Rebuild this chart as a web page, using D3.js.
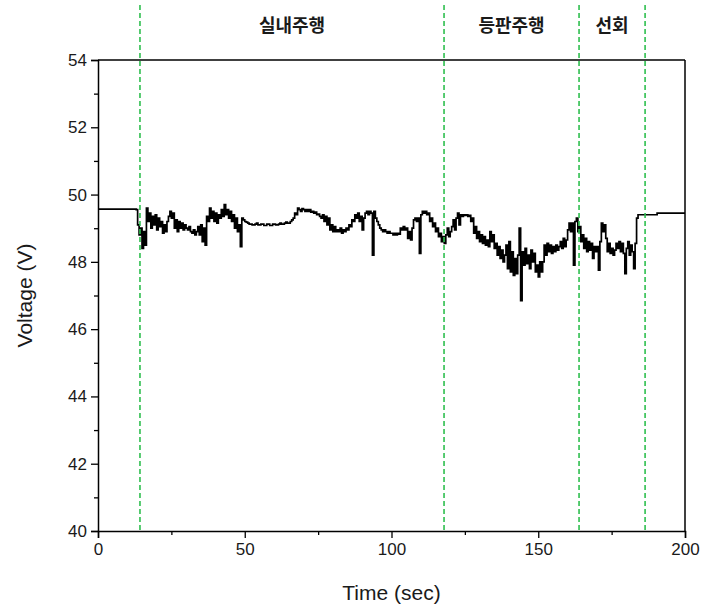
<!DOCTYPE html>
<html>
<head>
<meta charset="utf-8">
<script src="https://cdn.jsdelivr.net/npm/d3@7/dist/d3.min.js"></script>
<style>
  html, body { margin: 0; padding: 0; background: #fff; }
  svg { display: block; }
</style>
</head>
<body>
<svg id="chart" width="703" height="610"></svg>
<script>
// Battery voltage during the driving test
const xDomain = [0, 200];
const yDomain = [40, 54];
const xMajorTicks = [0, 50, 100, 150, 200];
const xMinorTicks = [25, 75, 125, 175];
const yMajorTicks = [40, 42, 44, 46, 48, 50, 52, 54];
const yMinorTicks = [41, 43, 45, 47, 49, 51, 53];

// phase boundaries (sec) and phase names
const phaseBounds = [14.3, 117.9, 163.9, 186.4];
const phaseNames = ["실내주행", "등판주행", "선회"];

// idle before the run
const leadIn = [[0, 49.57], [13, 49.57]];
// sampled voltage during the run, every 0.5 s from sampleStart
const sampleStart = 13;
const sampleStep = 0.5;
const runVoltage = [
  49.55, 49.1, 48.8, 49.0, 48.4, 48.9, 48.5, 49.6, 49.2, 49.45,
  49.0, 49.35, 49.1, 49.4, 48.95, 49.3, 49.05, 49.2, 48.85, 49.1,
  48.9, 49.2, 49.35, 49.5, 49.3, 49.45, 49.0, 49.25, 48.9, 49.2,
  49.0, 49.15, 48.95, 49.1, 49.0, 48.95, 49.05, 48.9, 48.85, 48.95,
  48.8, 48.9, 49.05, 48.8, 49.1, 48.6, 49.0, 48.5, 49.35, 49.2,
  49.6, 49.3, 49.5, 49.2, 49.45, 49.15, 49.4, 49.3, 49.55, 49.35,
  49.7, 49.4, 49.55, 49.3, 49.5, 49.2, 49.4, 49.0, 49.3, 48.9,
  49.1, 48.45, 49.3, 49.25, 49.2, 49.18, 49.15, 49.12, 49.12, 49.1,
  49.1, 49.12, 49.15, 49.1, 49.1, 49.12, 49.12, 49.08, 49.08, 49.12,
  49.12, 49.08, 49.08, 49.12, 49.12, 49.1, 49.1, 49.12, 49.15, 49.12,
  49.12, 49.15, 49.18, 49.15, 49.15, 49.2, 49.25, 49.3, 49.45, 49.4,
  49.6, 49.55, 49.5, 49.58, 49.55, 49.5, 49.55, 49.5, 49.55, 49.48,
  49.5, 49.45, 49.48, 49.4, 49.42, 49.35, 49.3, 49.4, 49.2, 49.35,
  49.1, 49.3, 48.95, 49.1, 48.9, 49.05, 48.9, 48.95, 48.9, 49.0,
  48.85, 48.95, 48.9, 49.0, 48.95, 49.1, 49.05, 49.25, 49.2, 49.4,
  49.3, 49.45, 49.2, 49.35, 48.95, 49.3, 49.45, 49.5, 49.4, 49.5,
  49.45, 48.2, 49.5, 49.3, 49.2, 49.1, 49.0, 48.95, 48.9, 48.95,
  48.9, 48.85, 48.9, 48.85, 48.85, 48.8, 48.85, 48.8, 48.85, 48.82,
  49.0, 48.95, 49.05, 48.95, 49.0, 48.7, 48.9, 48.65, 49.0, 49.25,
  49.3, 49.2, 49.3, 48.25, 49.4, 49.5, 49.45, 49.5, 49.4, 49.45,
  49.2, 49.3, 49.05, 49.15, 48.9, 49.0, 48.75, 48.85, 48.6, 48.75,
  48.55, 48.8, 49.0, 48.75, 48.9, 49.05, 49.25, 48.95, 49.3, 49.45,
  49.1, 49.4, 49.35, 49.4, 49.38, 49.4, 49.35, 49.38, 49.2, 49.3,
  48.85, 49.05, 48.7, 48.9, 48.6, 48.8, 48.55, 48.75, 48.5, 48.65,
  48.45, 48.9, 48.6, 48.8, 48.4, 48.55, 48.2, 48.45, 48.1, 48.35,
  48.0, 48.2, 48.5, 47.8, 48.6, 47.7, 48.3, 47.6, 48.1, 47.65,
  48.2, 49.0, 46.85, 48.3, 47.9, 48.4, 47.95, 48.2, 47.8, 48.35,
  48.0, 48.25, 47.7, 47.9, 47.55, 48.0, 47.7, 48.0, 48.5, 48.2,
  48.55, 48.3, 48.5, 48.25, 48.45, 48.3, 48.5, 48.35, 48.45, 48.6,
  48.4, 48.7, 48.45, 48.65, 48.95, 49.15, 48.9, 49.15, 47.9, 49.2,
  49.3, 48.9, 49.05, 48.6, 48.8, 48.4, 48.7, 48.3, 48.6, 48.35,
  48.55, 48.1, 48.45, 48.3, 48.45, 47.75, 48.6, 49.15, 48.9, 49.1,
  48.7, 48.3, 48.55, 48.25, 48.4, 48.2, 48.35, 48.55, 48.4, 48.6,
  48.3, 48.55, 48.25, 47.65, 48.4, 48.6, 48.2, 48.5, 48.3, 47.8,
  48.55, 49.3, 49.4
];
// idle after the run
const leadOut = [[190.5, 49.4], [190.5, 49.45], [200, 49.45]];

const series = leadIn
  .concat(runVoltage.map((v, i) => [sampleStart + i * sampleStep, v]))
  .concat(leadOut);

const W = 703, H = 610;
const margin = { top: 60, right: 18, bottom: 79, left: 98 };
const iw = W - margin.left - margin.right;
const ih = H - margin.top - margin.bottom;

const svg = d3.select("#chart");
const g = svg.append("g").attr("transform", `translate(${margin.left},${margin.top})`);

const x = d3.scaleLinear().domain(xDomain).range([0, iw]);
const y = d3.scaleLinear().domain(yDomain).range([ih, 0]);

const tickFont = "'Liberation Sans', Arial, sans-serif";
const textColor = "#1a1a1a";

// frame: top and right edges
g.append("line").attr("x1", 0).attr("x2", iw).attr("y1", 0).attr("y2", 0)
  .attr("stroke", "#000").attr("stroke-width", 1.5);
g.append("line").attr("x1", iw).attr("x2", iw).attr("y1", 0).attr("y2", ih)
  .attr("stroke", "#000").attr("stroke-width", 1.5);

// voltage trace
const line = d3.line()
  .x(d => x(d[0]))
  .y(d => y(d[1]))
  .curve(d3.curveStepAfter);
g.append("path")
  .datum(series)
  .attr("fill", "none")
  .attr("stroke", "#000")
  .attr("stroke-width", 1.7)
  .attr("stroke-linejoin", "miter")
  .attr("d", line);

// phase boundaries
g.selectAll(".phase")
  .data(phaseBounds)
  .join("line")
  .attr("class", "phase")
  .attr("x1", d => x(d)).attr("x2", d => x(d))
  .attr("y1", -55).attr("y2", ih)
  .attr("stroke", "#2fbf4f")
  .attr("stroke-width", 1.6)
  .attr("stroke-dasharray", "5,3");

// phase names centred between boundaries
g.selectAll(".phaseName")
  .data(phaseNames)
  .join("text")
  .attr("class", "phaseName")
  .attr("x", (d, i) => (x(phaseBounds[i]) + x(phaseBounds[i + 1])) / 2)
  .attr("y", -28)
  .attr("text-anchor", "middle")
  .attr("font-family", "'Noto Sans CJK KR', sans-serif")
  .attr("font-weight", "bold")
  .attr("font-size", 18)
  .attr("fill", textColor)
  .text(d => d);

// axes
const xAxis = g.append("g").attr("transform", `translate(0,${ih})`)
  .call(d3.axisBottom(x).tickValues(xMajorTicks).tickSize(7).tickPadding(5).tickFormat(d3.format("d")));
const xMinor = g.append("g").attr("transform", `translate(0,${ih})`)
  .call(d3.axisBottom(x).tickValues(xMinorTicks).tickSize(4).tickFormat(""));
const yAxis = g.append("g")
  .call(d3.axisLeft(y).tickValues(yMajorTicks).tickSize(7).tickPadding(4).tickFormat(d3.format("d")));
const yMinor = g.append("g")
  .call(d3.axisLeft(y).tickValues(yMinorTicks).tickSize(4).tickFormat(""));

[xAxis, xMinor, yAxis, yMinor].forEach(a => {
  a.select(".domain").attr("stroke", "#000").attr("stroke-width", 1.5);
  a.selectAll(".tick line").attr("stroke", "#000").attr("stroke-width", 1.3);
  a.selectAll(".tick text")
    .attr("font-family", tickFont)
    .attr("font-size", 17)
    .attr("fill", textColor);
});
xMinor.select(".domain").remove();
yMinor.select(".domain").remove();

// axis titles
g.append("text")
  .attr("x", iw / 2).attr("y", ih + 69)
  .attr("text-anchor", "middle")
  .attr("font-family", tickFont)
  .attr("font-size", 21)
  .attr("fill", textColor)
  .text("Time (sec)");
g.append("text")
  .attr("transform", `translate(${-66},${ih / 2}) rotate(-90)`)
  .attr("text-anchor", "middle")
  .attr("font-family", tickFont)
  .attr("font-size", 21)
  .attr("fill", textColor)
  .text("Voltage (V)");
</script>
</body>
</html>
